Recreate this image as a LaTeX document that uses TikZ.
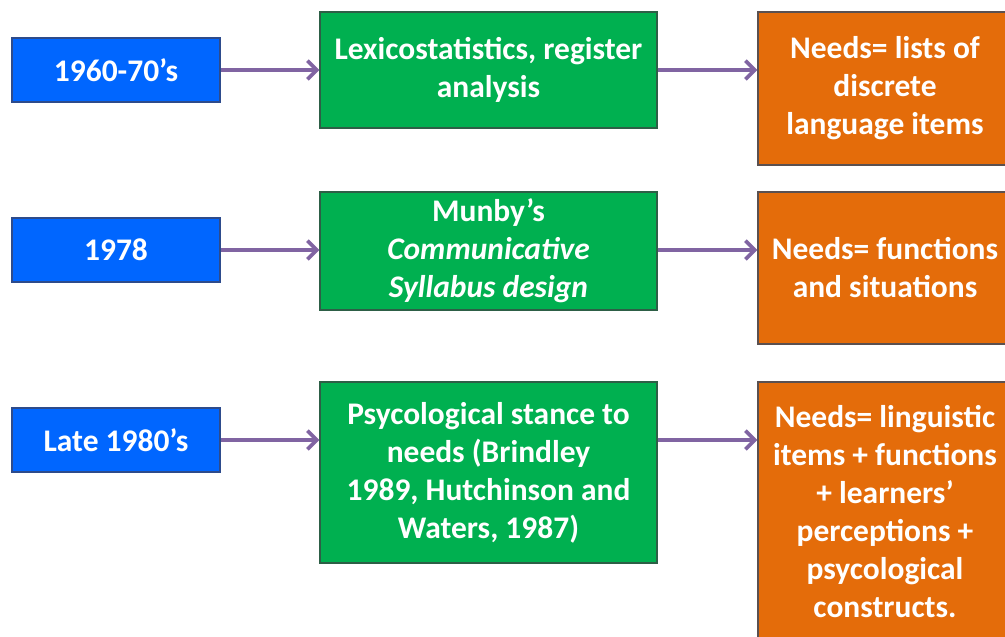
\documentclass[tikz,border=0pt]{standalone}
\usepackage{fontspec}
\setmainfont{Carlito}
\usepackage{xcolor}
\usepackage{tikz}
\usetikzlibrary{arrows.meta}
\definecolor{yearblue}{RGB}{0,102,255}
\definecolor{topicgreen}{RGB}{0,176,80}
\definecolor{needorange}{RGB}{228,108,10}
\definecolor{flowpurple}{RGB}{128,100,162}
\newcommand{\boxfont}{\bfseries\fontsize{23.6pt}{28.5pt}\selectfont}

\begin{document}
\begin{tikzpicture}[x=0.75pt,y=-0.75pt,
    yearbox/.style={fill=yearblue,draw={rgb,255:red,45;green,75;blue,140},line width=1pt,
      text=white,font=\boxfont,minimum width=156pt,minimum height=48pt,align=center},
    topicbox/.style={fill=topicgreen,draw={rgb,255:red,45;green,95;blue,70},line width=1pt,
      text=white,font=\boxfont,minimum width=252.75pt,align=center,inner sep=2pt},
    needbox/.style={fill=needorange,draw={rgb,255:red,90;green,80;blue,80},line width=1pt,
      text=white,font=\boxfont,minimum width=190.5pt,align=center,inner sep=2pt},
    flow/.style={draw=flowpurple,line width=2.8pt,-{Straight Barb[length=7pt,width=14pt]}}]
    \useasboundingbox (0,0) rectangle (1005,636);
    \clip (0,0) rectangle (1005,636);
    % first row
    \node[yearbox] (y1) at (116,70) {1960-70’s};
    \node[topicbox,minimum height=87pt] (t1) at (488.5,70) {Lexicostatistics, register\\analysis};
    \node[needbox,minimum height=114.75pt] (n1) at (885,88.5) {Needs= lists of\\discrete\\language items};
    % second row
    \node[yearbox] (y2) at (116,250) {1978};
    \node[topicbox,minimum height=88.5pt] (t2) at (488.5,251) {Munby’s\\\textit{Communicative}\\\textit{Syllabus design}};
    \node[needbox,minimum height=114pt] (n2) at (885,268) {Needs= functions\\and situations};
    % third row
    \node[yearbox] (y3) at (116,440) {Late 1980’s};
    \node[topicbox,minimum height=135.75pt] (t3) at (488.5,472.5) {Psycological stance to\\needs (Brindley\\1989, Hutchinson and\\Waters, 1987)};
    \node[needbox,minimum height=195pt] (n3) at (885,512) {Needs= linguistic\\items + functions\\+ learners’\\perceptions +\\psycological\\constructs.};
    % arrows
    \draw[flow] (y1.east) -- (y1.east -| t1.west);
    \draw[flow] (y1.east -| t1.east) -- (y1.east -| n1.west);
    \draw[flow] (y2.east) -- (y2.east -| t2.west);
    \draw[flow] (y2.east -| t2.east) -- (y2.east -| n2.west);
    \draw[flow] (y3.east) -- (y3.east -| t3.west);
    \draw[flow] (y3.east -| t3.east) -- (y3.east -| n3.west);
\end{tikzpicture}
\end{document}
